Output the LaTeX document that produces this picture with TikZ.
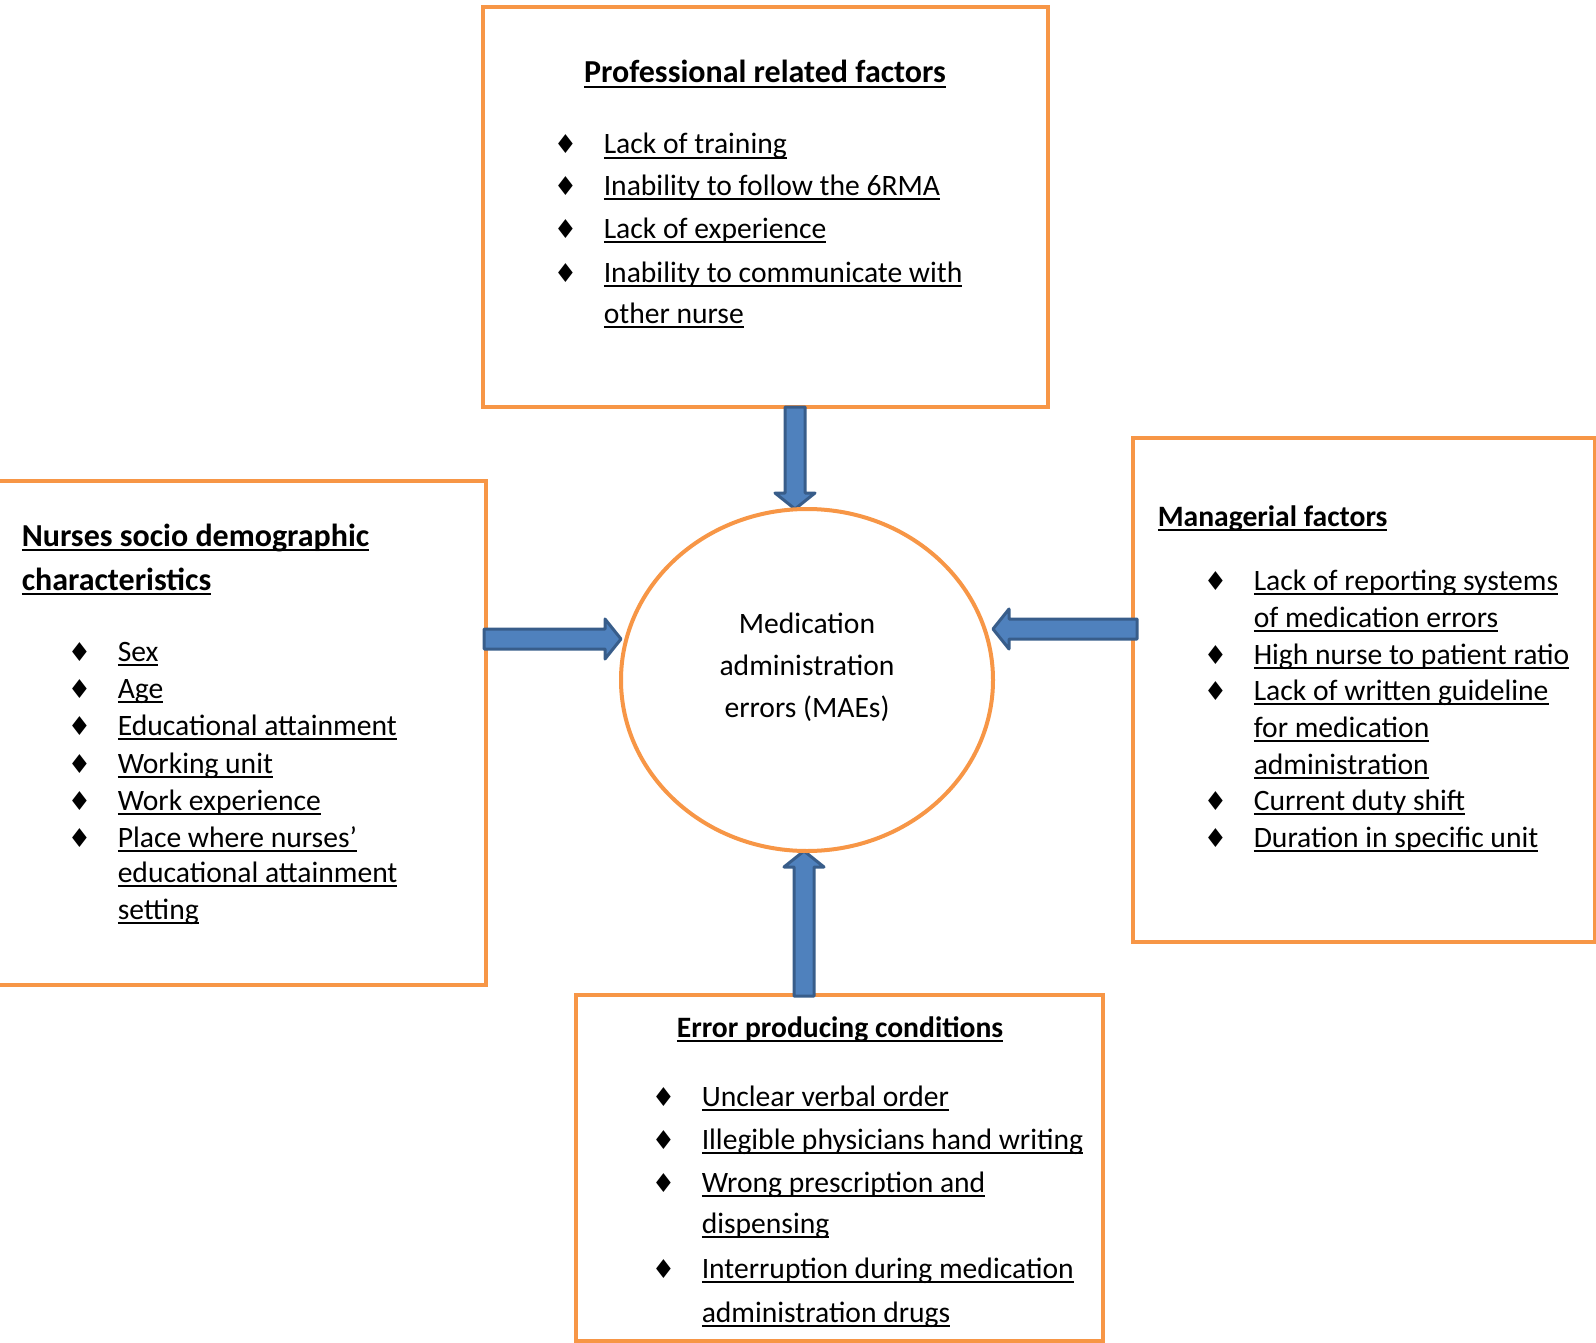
\documentclass[tikz,border=0pt]{standalone}
\usepackage{fontspec}
\setmainfont{Carlito}
\newfontfamily\symfont{DejaVu Sans}
\usetikzlibrary{calc,shapes.geometric}

\definecolor{boxorange}{HTML}{F79646}
\definecolor{arrowfill}{HTML}{4F81BD}
\definecolor{arrowline}{HTML}{385D8A}

% underlined text, bullet item
\newcommand{\ul}[1]{\setbox0\hbox{#1}\rlap{\rule[-2.4pt]{\wd0}{1pt}}\box0}
\newcommand{\itm}[1]{\llap{\makebox[25pt][l]{\symfont\fontsize{13pt}{15pt}\selectfont ♦}}\ul{#1}}

\tikzset{every picture/.style={line width=0.75pt},
  factorbox/.style={draw=boxorange, line width=2pt, inner sep=0pt},
  txt/.style={inner sep=0pt, font=\fontsize{14.8pt}{17pt}\selectfont},
  head/.style={inner sep=0pt, font=\fontsize{16pt}{18pt}\selectfont\bfseries},
  subhead/.style={inner sep=0pt, font=\fontsize{14.8pt}{17pt}\selectfont\bfseries},
  blockarrow/.style={draw=arrowline, fill=arrowfill, line width=1.5pt, line join=round,
    to path={($(\tikztostart)!5pt!90:(\tikztotarget)$)
      -- ($($(\tikztotarget)!8pt!(\tikztostart)$)!5pt!-90:(\tikztostart)$)
      -- ($($(\tikztotarget)!8pt!(\tikztostart)$)!10pt!-90:(\tikztostart)$)
      -- (\tikztotarget)
      -- ($($(\tikztotarget)!8pt!(\tikztostart)$)!10pt!90:(\tikztostart)$)
      -- ($($(\tikztotarget)!8pt!(\tikztostart)$)!5pt!90:(\tikztostart)$)
      -- ($(\tikztostart)!5pt!-90:(\tikztotarget)$) -- cycle}}
}

\begin{document}
\begin{tikzpicture}[x=0.5pt,y=0.5pt,yscale=-1,xscale=1]
        \useasboundingbox (0,0) rectangle (1596,1343);

        %Shape: Rectangle [id:prof]
        \node [factorbox, minimum width=282.5pt, minimum height=200pt] (prof) at (765.5,207) {};
        %Shape: Rectangle [id:socio]
        \node [factorbox, minimum width=244pt, minimum height=252pt] (socio) at (242,733) {};
        %Shape: Rectangle [id:manag]
        \node [factorbox, minimum width=231pt, minimum height=252pt] (manag) at (1597,690) [anchor=east] {};
        %Shape: Rectangle [id:errcond]
        \node [factorbox, minimum width=263.5pt, minimum height=173pt] (errcond) at (839.5,1168) {};

        %Arrow ends
        \coordinate (ta) at (795,407);
        \coordinate (la) at (484,639);
        \coordinate (ra) at (1137,629);
        \coordinate (ba) at (804,996);
        \coordinate (mc) at (807,680);
        \coordinate (mn) at (807,509);
        \coordinate (ms) at (807,851);
        \coordinate (mw) at (621,680);
        \coordinate (me) at (993,680);

        %Block Arrows
        \draw [blockarrow] (ta) to (ta |- mn);
        \draw [blockarrow] (la) to (la -| mw);
        \draw [blockarrow] (ra) to (ra -| me);
        \draw [blockarrow] (ba) to (ba |- ms);

        %Shape: Ellipse [id:mae]
        \node [draw=boxorange, line width=2pt, fill=white, ellipse, inner sep=0pt, minimum width=186pt, minimum height=171pt] (mae) at (mc) {};

        % Text Node
        \draw (807,633) node [txt, anchor=base] (m1) {Medication};
        % Text Node
        \draw (807,675) node [txt, anchor=base] (m2) {administration};
        % Text Node
        \draw (807,717) node [txt, anchor=base] (m3) {errors (MAEs)};

        % Text Node
        \draw (765,83) node [head, anchor=base] (profh) {\ul{Professional related factors}};
        % Text Node
        \draw (603,154) node [txt, anchor=base west] (prof1) {\itm{Lack of training}};
        % Text Node
        \draw (603,195) node [txt, anchor=base west] (prof2) {\itm{Inability to follow the 6RMA}};
        % Text Node
        \draw (603,238) node [txt, anchor=base west] (prof3) {\itm{Lack of experience}};
        % Text Node
        \draw (603,282) node [txt, anchor=base west] (prof4) {\itm{Inability to communicate with}};
        % Text Node
        \draw (603,323) node [txt, anchor=base west] (prof5) {\ul{other nurse}};

        % Text Node
        \draw (21,546) node [head, anchor=base west] (socioh1) {\ul{Nurses socio demographic}};
        % Text Node
        \draw (21,590) node [head, anchor=base west] (socioh2) {\ul{characteristics}};
        % Text Node
        \draw (117,661) node [txt, anchor=base west] (socio1) {\itm{Sex}};
        % Text Node
        \draw (117,698) node [txt, anchor=base west] (socio2) {\itm{Age}};
        % Text Node
        \draw (117,735) node [txt, anchor=base west] (socio3) {\itm{Educational attainment}};
        % Text Node
        \draw (117,773) node [txt, anchor=base west] (socio4) {\itm{Working unit}};
        % Text Node
        \draw (117,810) node [txt, anchor=base west] (socio5) {\itm{Work experience}};
        % Text Node
        \draw (117,847) node [txt, anchor=base west] (socio6) {\itm{Place where nurses’}};
        % Text Node
        \draw (117,882) node [txt, anchor=base west] (socio7) {\ul{educational attainment}};
        % Text Node
        \draw (117,919) node [txt, anchor=base west] (socio8) {\ul{setting}};

        % Text Node
        \draw (1157,526) node [subhead, anchor=base west] (managh) {\ul{Managerial factors}};
        % Text Node
        \draw (1253,590) node [txt, anchor=base west] (manag1) {\itm{Lack of reporting systems}};
        % Text Node
        \draw (1253,627) node [txt, anchor=base west] (manag2) {\ul{of medication errors}};
        % Text Node
        \draw (1253,664) node [txt, anchor=base west] (manag3) {\itm{High nurse to patient ratio}};
        % Text Node
        \draw (1253,700) node [txt, anchor=base west] (manag4) {\itm{Lack of written guideline}};
        % Text Node
        \draw (1253,737) node [txt, anchor=base west] (manag5) {\ul{for medication}};
        % Text Node
        \draw (1253,774) node [txt, anchor=base west] (manag6) {\ul{administration}};
        % Text Node
        \draw (1253,810) node [txt, anchor=base west] (manag7) {\itm{Current duty shift}};
        % Text Node
        \draw (1253,847) node [txt, anchor=base west] (manag8) {\itm{Duration in specific unit}};

        % Text Node
        \draw (840,1037) node [subhead, anchor=base] (errh) {\ul{Error producing conditions}};
        % Text Node
        \draw (701,1106) node [txt, anchor=base west] (err1) {\itm{Unclear verbal order}};
        % Text Node
        \draw (701,1149) node [txt, anchor=base west] (err2) {\itm{Illegible physicians hand writing}};
        % Text Node
        \draw (701,1192) node [txt, anchor=base west] (err3) {\itm{Wrong prescription and}};
        % Text Node
        \draw (701,1233) node [txt, anchor=base west] (err4) {\ul{dispensing}};
        % Text Node
        \draw (701,1278) node [txt, anchor=base west] (err5) {\itm{Interruption during medication}};
        % Text Node
        \draw (701,1322) node [txt, anchor=base west] (err6) {\ul{administration drugs}};

\end{tikzpicture}
\end{document}
